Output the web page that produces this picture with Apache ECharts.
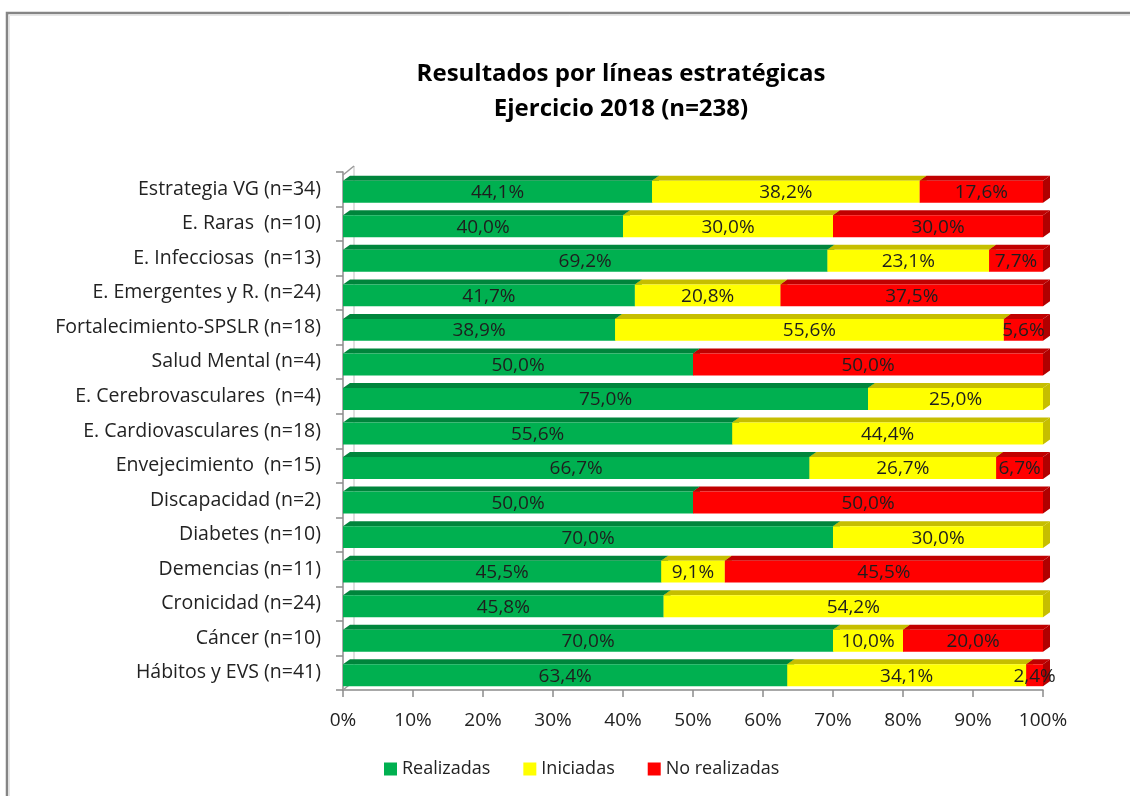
<!DOCTYPE html>
<html>
<head>
<meta charset="UTF-8">
<title>Resultados por líneas estratégicas</title>
<script src="https://cdn.jsdelivr.net/npm/echarts@6/dist/echarts.min.js"></script>
<style>
  html, body { margin: 0; padding: 0; background: #fff; }
  #chart { width: 1130px; height: 796px; }
</style>
</head>
<body>
<div id="chart"></div>
<script type="text/javascript">

	var categories = ['Estrategia VG (n=34)', 'E. Raras  (n=10)', 'E. Infecciosas  (n=13)',
		'E. Emergentes y R. (n=24)', 'Fortalecimiento-SPSLR (n=18)', 'Salud Mental (n=4)',
		'E. Cerebrovasculares  (n=4)', 'E. Cardiovasculares (n=18)', 'Envejecimiento  (n=15)',
		'Discapacidad (n=2)', 'Diabetes (n=10)', 'Demencias (n=11)', 'Cronicidad (n=24)',
		'Cáncer (n=10)', 'Hábitos y EVS (n=41)'];
	var realizadas   = [44.1, 40.0, 69.2, 41.7, 38.9, 50.0, 75.0, 55.6, 66.7, 50.0, 70.0, 45.5, 45.8, 70.0, 63.4];
	var iniciadas    = [38.2, 30.0, 23.1, 20.8, 55.6,  0.0, 25.0, 44.4, 26.7,  0.0, 30.0,  9.1, 54.2, 10.0, 34.1];
	var noRealizadas = [17.6, 30.0,  7.7, 37.5,  5.6, 50.0,  0.0,  0.0,  6.7, 50.0,  0.0, 45.5,  0.0, 20.0,  2.4];
	var xTicks = [0, 10, 20, 30, 40, 50, 60, 70, 80, 90, 100];

	var FONT = '"Open Sans", Lato, sans-serif';
	var DX = 7, DY = 5;

	// build [start, end, category, value] rows, 100% stacked
	function buildRows(lists, k) {
		var rows = [];
		for (var i = 0; i < categories.length; i++) {
			var sum = 0, cum = 0;
			for (var j = 0; j < lists.length; j++) sum += lists[j][i];
			for (var j = 0; j < k; j++) cum += lists[j][i];
			rows.push([cum / sum * 100, (cum + lists[k][i]) / sum * 100, i, lists[k][i]]);
		}
		return rows;
	}

	function fmt(v) {
		return v.toFixed(1).replace('.', ',') + '%';
	}

	function segRenderer(front, top, side) {
		return function (params, api) {
			var v = api.value(3);
			if (!(v > 0)) return;
			var a = api.coord([api.value(0), api.value(2)]);
			var b = api.coord([api.value(1), api.value(2)]);
			var band = api.size([0, 1])[1];
			var half = band * 0.39;
			var cy = a[1];
			var y0 = cy - half + DY, y1 = cy + half;
			var x0 = a[0], x1 = b[0];
			return {
				type: 'group',
				children: [
					{ type: 'polygon', shape: { points: [[x1, y0], [x1 + DX, y0 - DY], [x1 + DX, y1 - DY], [x1, y1]] },
						style: { fill: side } },
					{ type: 'polygon', shape: { points: [[x0, y0], [x0 + DX, y0 - DY], [x1 + DX, y0 - DY], [x1, y0]] },
						style: { fill: top } },
					{ type: 'rect', shape: { x: x0, y: y0, width: x1 - x0, height: y1 - y0 },
						style: { fill: front } },
					{ type: 'text', style: { text: fmt(v), x: (x0 + x1) / 2, y: (y0 + y1) / 2 + 1,
						align: 'center', verticalAlign: 'middle', fontSize: 19, fontFamily: FONT, fill: '#1e1e1e' } }
				]
			};
		};
	}

	function wallRenderer(params, api) {
		var cs = params.coordSys;
		var x = cs.x, yt = cs.y + 3, yb = cs.y + cs.height;
		var wx = 11, wy = 9;
		return {
			type: 'group',
			children: [
				{ type: 'line', shape: { x1: x + wx, y1: yt - wy, x2: x + wx, y2: yb - wy }, style: { stroke: '#d4d4d4', lineWidth: 1.5 } },
				{ type: 'line', shape: { x1: x, y1: yt, x2: x + wx, y2: yt - wy }, style: { stroke: '#9a9a9a', lineWidth: 1.5 } },
				{ type: 'line', shape: { x1: x, y1: yb, x2: x + wx, y2: yb - wy }, style: { stroke: '#9a9a9a', lineWidth: 1.5 } }
			]
		};
	}

	var lists = [realizadas, iniciadas, noRealizadas];
	var names = ['Realizadas', 'Iniciadas', 'No realizadas'];
	var fronts = ['#00b050', '#ffff00', '#ff0000'];
	var tops = ['#00853c', '#c6be00', '#c00000'];
	var sides = ['#00853c', '#c6be00', '#b00000'];

	var series = [{
		type: 'custom',
		name: 'wall',
		renderItem: wallRenderer,
		data: [[0, 0, 0, 0]],
		encode: { x: 0, y: 2 },
		silent: true,
		z: 1
	}];
	for (var k = 0; k < 3; k++) {
		series.push({
			type: 'custom',
			name: names[k],
			renderItem: segRenderer(fronts[k], tops[k], sides[k]),
			itemStyle: { color: fronts[k] },
			encode: { x: [0, 1], y: 2 },
			data: buildRows(lists, k),
			z: 2 + k
		});
	}

	var chart = echarts.init(document.getElementById('chart'));
	var option = {
		backgroundColor: '#ffffff',
		animation: false,
		title: {
			text: 'Resultados por líneas estratégicas\nEjercicio 2018 (n=238)',
			left: 616,
			top: 52,
			textAlign: 'center',
			textStyle: { fontFamily: FONT, fontSize: 24, fontWeight: 'bold', color: '#000', lineHeight: 35 }
		},
		legend: {
			data: names,
			bottom: 13,
			left: 379,
			icon: 'rect',
			itemWidth: 13,
			itemHeight: 13,
			itemGap: 33,
			textStyle: { fontFamily: FONT, fontSize: 18, color: '#222' }
		},
		grid: { left: 343, right: 87, top: 172, bottom: 106 },
		xAxis: {
			type: 'value',
			min: 0, max: 100, interval: 10,
			splitLine: { show: false },
			axisLine: { show: true, lineStyle: { color: '#8c8c8c', width: 1.5 } },
			axisTick: { show: true, length: 7, lineStyle: { color: '#8c8c8c', width: 1.5 } },
			axisLabel: {
				margin: 21,
				fontFamily: FONT, fontSize: 19, color: '#222',
				customValues: xTicks,
				formatter: function (v) { return v + '%'; }
			}
		},
		yAxis: {
			type: 'category',
			data: categories,
			inverse: true,
			axisLine: { show: true, lineStyle: { color: '#8c8c8c', width: 1.5 } },
			axisTick: { show: true, length: 7, lineStyle: { color: '#8c8c8c', width: 1.5 } },
			axisLabel: { margin: 22, padding: [9, 0, 0, 0], fontFamily: FONT, fontSize: 19.5, color: '#222' }
		},
		graphic: [
			{ type: 'polyline', shape: { points: [[7, 796], [7, 13], [1130, 13]] },
				style: { stroke: '#858585', lineWidth: 2.5, fill: null }, silent: true },
			{ type: 'polyline', shape: { points: [[9.5, 796], [9.5, 15.5], [1130, 15.5]] },
				style: { stroke: '#e6e6e6', lineWidth: 1, fill: null }, silent: true }
		],
		series: series
	};
	chart.setOption(option);
</script>
</body>
</html>
